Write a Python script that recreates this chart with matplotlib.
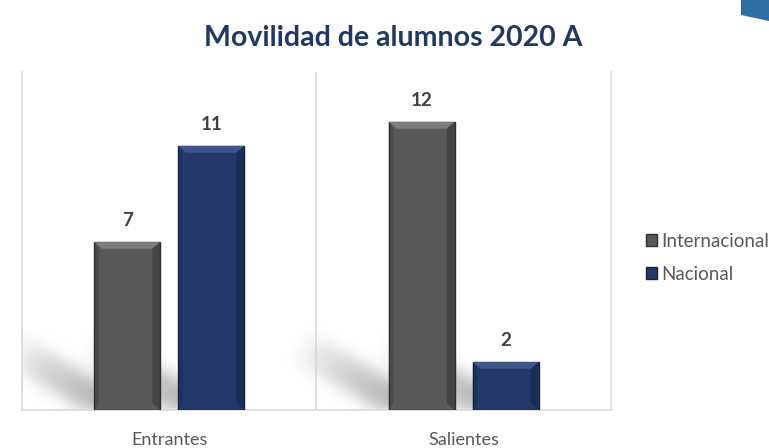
import numpy as np
import matplotlib
matplotlib.use("Agg")
from matplotlib import pyplot as plt
from matplotlib.patches import Polygon, Patch

plt.rcParams['font.family'] = ['Lato', 'DejaVu Sans']

categories = ["Entrantes", "Salientes"]
series = ["Internacional", "Nacional"]
internacional = [7, 12]
nacional = [11, 2]

face = {"Internacional": "#595959", "Nacional": "#22396a"}
edge = {"Internacional": "#2e2e2e", "Nacional": "#132243"}
light = {"Internacional": "#7c7c7c", "Nacional": "#3e5688"}

XLIM = (-0.5, 1.5)
YLIM = (0, 14.08)
NX, NY = 589, 338  # axes size in pixels


def blur(a, sigma):
    r = int(3 * sigma)
    k = np.exp(-0.5 * (np.arange(-r, r + 1) / sigma) ** 2)
    k /= k.sum()
    a = np.array([np.convolve(row, k, mode="same") for row in a])
    a = np.array([np.convolve(col, k, mode="same") for col in a.T]).T
    return a


def shadow_layer(bars):
    # soft diagonal shadow falling up-left from each bar foot
    sx = NX / (XLIM[1] - XLIM[0])
    sy = NY / (YLIM[1] - YLIM[0])
    gx, gy = np.meshgrid(np.arange(NX) + 0.5, np.arange(NY) + 0.5)
    alpha = np.zeros((NY, NX))
    d = np.array([-100.0, 58.0])
    L = np.hypot(*d)
    d /= L
    n = np.array([-d[1], d[0]])
    for b in bars:
        ox = (b.get_x() - XLIM[0]) * sx + 12
        oy = (b.get_y() - YLIM[0]) * sy + 6
        rx, ry = gx - ox, gy - oy
        t = (rx * d[0] + ry * d[1]) / L
        p = rx * n[0] + ry * n[1]
        m = (t > -0.1) & (t < 1) & (np.abs(p) < 16)
        alpha = np.maximum(alpha, np.where(m, (1 - np.clip(t, 0, 1)) ** 0.7, 0))
    alpha = blur(alpha, 7) * 0.55
    img = np.zeros((NY, NX, 4))
    img[..., :3] = 0.45
    img[..., 3] = alpha
    return img


def add_bevel(ax, bar, name):
    x0, y0 = bar.get_x(), bar.get_y()
    w, h = bar.get_width(), bar.get_height()
    bx, by = w * 0.12, 0.28
    top = [(x0, y0 + h), (x0 + w, y0 + h), (x0 + w - bx, y0 + h - by),
           (x0 + bx, y0 + h - by)]
    ax.add_patch(Polygon(top, closed=True, facecolor=light[name],
                         edgecolor="none", zorder=4))
    right = [(x0 + w, y0 + h), (x0 + w, y0), (x0 + w - bx, y0 + by),
             (x0 + w - bx, y0 + h - by)]
    ax.add_patch(Polygon(right, closed=True, facecolor=edge[name],
                         edgecolor="none", alpha=0.45, zorder=4))
    left = [(x0, y0 + h), (x0, y0), (x0 + bx * 0.6, y0 + by),
            (x0 + bx * 0.6, y0 + h - by)]
    ax.add_patch(Polygon(left, closed=True, facecolor=edge[name],
                         edgecolor="none", alpha=0.3, zorder=4))


fig = plt.figure(figsize=(7.69, 4.48), dpi=100)
ax = fig.add_axes([0.0286, 0.0848, 0.7659, 0.7545])

x = np.arange(len(categories))
width = 0.224
offset = 0.1426
groups = [("Internacional", internacional, -offset),
          ("Nacional", nacional, offset)]
all_bars = []
for name, vals, off in groups:
    bars = ax.bar(x + off, vals, width, color=face[name],
                  edgecolor=edge[name], linewidth=1.0, zorder=3)
    all_bars.extend(bars)
    for b, v in zip(bars, vals):
        add_bevel(ax, b, name)
        ax.annotate(str(v), (b.get_x() + b.get_width() / 2, b.get_height()),
                    xytext=(0, 9), textcoords="offset points",
                    ha="center", va="bottom", fontsize=13.5,
                    fontweight="bold", color="#404040")

ax.imshow(shadow_layer(all_bars), extent=(*XLIM, *YLIM), origin="lower",
          aspect="auto", zorder=1, interpolation="bilinear")

ax.set_xlim(*XLIM)
ax.set_ylim(*YLIM)
ax.set_yticks([])
ax.set_xticks(x)
ax.set_xticklabels(categories, fontsize=13, color="#595959")
ax.tick_params(axis="x", length=0, pad=16)
ax.spines["top"].set_visible(False)
for s in ax.spines.values():
    s.set_color("#d9d9d9")
    s.set_linewidth(1.2)
ax.axvline(0.5, color="#d9d9d9", linewidth=1.2, zorder=2)

handles = [Patch(facecolor=face[n], edgecolor=edge[n]) for n in series]
ax.legend(handles, series, loc="center left", bbox_to_anchor=(1.03, 0.45),
          frameon=False, fontsize=13.5, labelcolor="#595959",
          handlelength=0.6, handleheight=0.6, handletextpad=0.25,
          labelspacing=0.85)

fig.text(0.511, 0.916, "Movilidad de alumnos 2020 A", ha="center",
         va="center", fontsize=20.5, fontweight="bold", color="#1f3864")

# corner decoration cut off at the top right
fig.patches.append(Polygon([(741 / 769, 1), (1, 1), (1, 1 - 21 / 448),
                            (741 / 769, 1 - 15 / 448)], closed=True,
                           transform=fig.transFigure, facecolor="#2f6ea5",
                           edgecolor="none"))

fig.savefig("out.png", dpi=100)
